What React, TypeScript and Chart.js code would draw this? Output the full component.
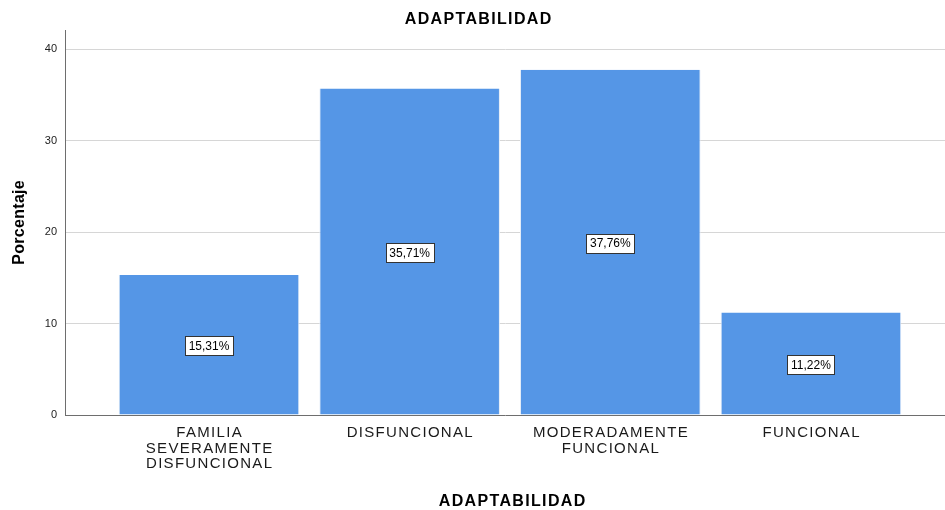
import React, { useEffect, useRef } from "react";
import { Chart, registerables } from "chart.js";

Chart.register(...registerables);

const categories: string[][] = [
  ["FAMILIA", "SEVERAMENTE", "DISFUNCIONAL"],
  ["DISFUNCIONAL"],
  ["MODERADAMENTE", "FUNCIONAL"],
  ["FUNCIONAL"],
];
const percentages: number[] = [15.31, 35.71, 37.76, 11.22];
const yTicks: number[] = [0, 10, 20, 30, 40];
const chartTitle = "ADAPTABILIDAD";
const xTitle = "ADAPTABILIDAD";
const yTitle = "Porcentaje";

const FONT = "'Liberation Sans', Arial, sans-serif";

function drawSpaced(ctx: any, text: string, cx: number, baseline: number, ls: number) {
  ctx.letterSpacing = `${ls}px`;
  ctx.textAlign = "left";
  ctx.textBaseline = "alphabetic";
  const w = ctx.measureText(text).width;
  ctx.fillText(text, cx - (w - ls) / 2, baseline);
  ctx.letterSpacing = "0px";
}

const textPlugin = {
  id: "customText",
  afterDraw(chart: any) {
    const ctx = chart.ctx;
    const area = chart.chartArea;
    const xs = chart.scales.x;
    ctx.save();
    ctx.fillStyle = "#000";
    // chart title
    ctx.font = `bold 16px ${FONT}`;
    drawSpaced(ctx, chartTitle, 478, 24, 1.35);
    // x axis title
    drawSpaced(ctx, xTitle, (area.left + area.right) / 2 + 7, 506, 1.35);
    // x tick labels
    ctx.fillStyle = "#1a1a1a";
    ctx.font = `15px ${FONT}`;
    categories.forEach((lines, i) => {
      const cx = xs.getPixelForValue(i);
      lines.forEach((line, j) => {
        drawSpaced(ctx, line, cx, 437 + j * 15.5, 1.3);
      });
    });
    // y axis title
    ctx.fillStyle = "#000";
    ctx.font = `bold 16px ${FONT}`;
    ctx.translate(24, (area.top + area.bottom) / 2);
    ctx.rotate(-Math.PI / 2);
    drawSpaced(ctx, yTitle, 0, 0, 0.3);
    ctx.restore();
  },
};

const labelPlugin = {
  id: "boxLabels",
  afterDatasetsDraw(chart: any) {
    const ctx = chart.ctx;
    const meta = chart.getDatasetMeta(0);
    ctx.save();
    ctx.font = `12px ${FONT}`;
    ctx.textAlign = "center";
    ctx.textBaseline = "middle";
    meta.data.forEach((bar: any, i: number) => {
      const text = percentages[i].toFixed(2).replace(".", ",") + "%";
      const cx = bar.x;
      const cy = (bar.y + bar.base) / 2 + 1;
      const w = Math.round(ctx.measureText(text).width + 7);
      const h = 19;
      const x0 = Math.round(cx - w / 2) + 0.5;
      const y0 = Math.round(cy - h / 2) + 0.5;
      ctx.fillStyle = "#ffffff";
      ctx.fillRect(x0, y0, w, h);
      ctx.strokeStyle = "#333333";
      ctx.lineWidth = 1;
      ctx.strokeRect(x0, y0, w, h);
      ctx.fillStyle = "#000000";
      ctx.fillText(text, cx, cy + 1);
    });
    ctx.restore();
  },
};

export default function App() {
  const ref = useRef<HTMLCanvasElement | null>(null);
  useEffect(() => {
    document.body.style.margin = "0";
    if (!ref.current) return;
    const chart = new Chart(ref.current, {
      type: "bar",
      data: {
        datasets: [
          {
            data: percentages.map((v, i) => ({ x: i, y: v })),
            backgroundColor: "#5596e6",
            borderColor: "#e3ecf8",
            borderWidth: { left: 1, right: 1, top: 0, bottom: 0 },
            barPercentage: 0.9,
            categoryPercentage: 1,
          },
        ],
      },
      plugins: [labelPlugin, textPlugin],
      options: {
        animation: false,
        responsive: false,
        maintainAspectRatio: false,
        layout: { padding: { top: 30, right: 0, left: 0, bottom: 0 } },
        plugins: {
          legend: { display: false },
          tooltip: { enabled: false },
          title: { display: false },
        },
        scales: {
          x: {
            type: "linear",
            min: -0.7176,
            max: 3.668,
            offset: false,
            afterBuildTicks: (scale: any) => {
              scale.ticks = categories.map((_, i) => ({ value: i }));
            },
            afterFit: (scale: any) => {
              scale.height = 95;
            },
            ticks: { display: false },
            grid: { display: false, drawTicks: false },
            border: { display: true, color: "#6e6e6e", width: 1 },
            title: { display: false },
          },
          y: {
            min: 0,
            max: 42.1,
            afterBuildTicks: (scale: any) => {
              scale.ticks = yTicks.map((v) => ({ value: v }));
            },
            afterFit: (scale: any) => {
              scale.width = 65;
            },
            ticks: {
              padding: 8,
              color: "#222",
              font: { family: FONT, size: 11 },
            },
            grid: {
              color: (c: any) => (c.tick && c.tick.value === 0 ? "rgba(0,0,0,0)" : "#d6d6d6"),
              drawTicks: false,
              lineWidth: 1,
            },
            border: { display: true, color: "#6e6e6e", width: 1 },
            title: { display: false },
          },
        },
      },
    } as any);
    return () => chart.destroy();
  }, []);
  return (
    <div style={{ width: 945, height: 510 }}>
      <canvas ref={ref} width={945} height={510} style={{ display: "block" }} />
    </div>
  );
}
